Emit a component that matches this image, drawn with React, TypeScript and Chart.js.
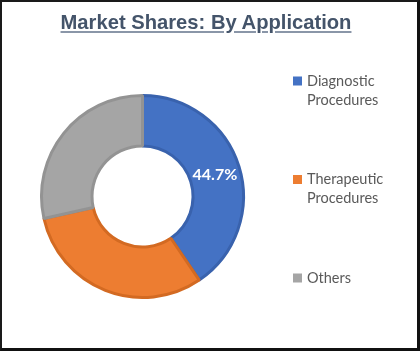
import React, { useEffect, useRef } from "react";
import { Chart, registerables } from "chart.js";

Chart.register(...registerables);

const titleText = "Market Shares: By Application";
const categories = [["Diagnostic", "Procedures"], ["Therapeutic", "Procedures"], ["Others"]];
const shares = [40.5, 31.0, 28.5];
const sliceLabels = ["44.7%", "", ""];
const fillColors = ["#4472C4", "#ED7D31", "#A5A5A5"];
const edgeColors = ["#3962AD", "#D36A22", "#939393"];

const sliceLabelPlugin = {
  id: "sliceLabels",
  afterDatasetsDraw(chart: any) {
    const ctx = chart.ctx;
    const meta = chart.getDatasetMeta(0);
    ctx.save();
    ctx.font = "bold 16px Lato";
    ctx.fillStyle = "#FFFFFF";
    ctx.textAlign = "center";
    ctx.textBaseline = "middle";
    meta.data.forEach((arc: any, i: number) => {
      const t = sliceLabels[i];
      if (!t) return;
      const p = arc.tooltipPosition();
      ctx.fillText(t, p.x, p.y + 1);
    });
    ctx.restore();
  },
};

const sideLegendPlugin = {
  id: "sideLegend",
  afterDraw(chart: any) {
    const ctx = chart.ctx;
    const area = chart.chartArea;
    const x0 = area.right + 48;
    const firstY = 81;
    const gap = 98.5;
    const lineH = 19;
    ctx.save();
    ctx.font = "14.5px Lato";
    ctx.textBaseline = "middle";
    ctx.textAlign = "left";
    categories.forEach((lines, i) => {
      const y = firstY + i * gap;
      ctx.fillStyle = fillColors[i];
      ctx.fillRect(x0, y - 4.5, 9, 9);
      ctx.fillStyle = "#595959";
      lines.forEach((ln, j) => {
        ctx.fillText(ln, x0 + 14, y + j * lineH);
      });
    });
    ctx.restore();
  },
};

export default function App() {
  const ref = useRef<HTMLCanvasElement>(null);

  useEffect(() => {
    const canvas = ref.current;
    if (!canvas) return;
    const chart = new Chart(canvas, {
      type: "doughnut",
      data: {
        labels: categories.map((c) => c.join(" ")),
        datasets: [
          {
            data: shares,
            backgroundColor: fillColors,
            borderColor: edgeColors,
            borderWidth: 3,
          },
        ],
      },
      options: {
        animation: false,
        responsive: false,
        maintainAspectRatio: false,
        cutout: "50%",
        layout: { padding: { left: 40, right: 175, top: 94, bottom: 52 } },
        plugins: {
          legend: { display: false },
          tooltip: { enabled: false },
          title: { display: false },
        },
      },
      plugins: [sliceLabelPlugin, sideLegendPlugin],
    });
    return () => chart.destroy();
  }, []);

  return (
    <div
      style={{
        position: "absolute",
        left: 0,
        top: 0,
        width: 420,
        height: 351,
        background: "#FFFFFF",
      }}
    >
      <canvas ref={ref} width={420} height={351} style={{ position: "absolute", left: 0, top: 0 }} />
      <div
        style={{
          position: "absolute",
          left: 0,
          top: 10,
          width: 412,
          textAlign: "center",
          fontFamily: "'Liberation Sans', Arial, sans-serif",
          fontWeight: "bold",
          fontSize: 20.2,
          lineHeight: "24px",
          color: "#44546A",
          textDecoration: "underline",
          textDecorationColor: "#8A96A8",
          whiteSpace: "nowrap",
        }}
      >
        {titleText}
      </div>
      <div
        style={{
          position: "absolute",
          left: 0,
          top: 0,
          width: 420,
          height: 351,
          boxSizing: "border-box",
          borderTop: "2px solid #1A1A1A",
          borderLeft: "2px solid #1A1A1A",
          borderRight: "3px solid #111111",
          borderBottom: "3px solid #111111",
          pointerEvents: "none",
        }}
      />
    </div>
  );
}
